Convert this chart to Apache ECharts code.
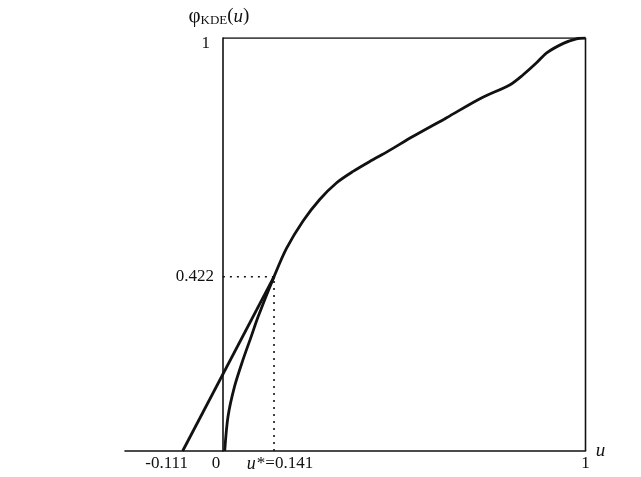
<!DOCTYPE html>
<html>
<head>
<meta charset="utf-8">
<script src="https://cdn.jsdelivr.net/npm/echarts@6/dist/echarts.min.js"></script>
<style>html,body{margin:0;padding:0;background:#fff}#c{width:641px;height:477px}</style>
</head>
<body>
<div id="c"></div>
<script>
// KDE curve phi_KDE(u)
const curveU   = [0.005, 0.014, 0.032, 0.055, 0.078, 0.097, 0.141, 0.175, 0.221, 0.267, 0.313, 0.359, 0.405, 0.456, 0.525, 0.617, 0.709, 0.792, 0.828, 0.865, 0.893, 0.939, 0.975, 1];
const curvePhi = [0, 0.083, 0.156, 0.220, 0.277, 0.325, 0.422, 0.490, 0.557, 0.609, 0.649, 0.677, 0.701, 0.726, 0.762, 0.807, 0.853, 0.887, 0.911, 0.940, 0.964, 0.987, 0.998, 1];
// tangent line from u=-0.111 to tangent point
const tangentU   = [-0.111, 0.141];
const tangentPhi = [0, 0.422];
// optimum point
const uStar = 0.141;
const phiStar = 0.422;
// ticks
const xTickValues = [-0.111, 0, 0.141, 1];
const xTickLabels = ['-0.111', '0', 'u*=0.141', '1'];
const yTickValues = [0.422, 1];
const yTickLabels = ['0.422', '1'];

const zip = (a, b) => a.map((v, i) => [v, b[i]]);
const FONT = 'Liberation Serif';
const chart = echarts.init(document.getElementById('c'));
chart.setOption({
  animation: false,
  backgroundColor: '#fff',
  grid: { left: 125, right: 55.5, top: 38, bottom: 26 },
  xAxis: {
    type: 'value', min: -0.27, max: 1,
    splitLine: { show: false },
    axisTick: { show: false },
    axisLine: { onZero: true, lineStyle: { color: '#111', width: 1.6 } },
    name: 'u', nameLocation: 'end', nameGap: 8,
    nameTextStyle: { fontFamily: FONT, fontStyle: 'italic', fontSize: 19, color: '#111', padding: [0, 0, 14, 0] },
    axisLabel: {
      customValues: xTickValues,
      margin: 4,
      fontFamily: FONT, fontSize: 17, color: '#111',
      formatter: function (v) {
        const i = xTickValues.findIndex(t => Math.abs(t - v) < 1e-6);
        if (i === 0) return '{l|' + xTickLabels[0] + '}';
        if (i === 1) return '{z|' + xTickLabels[1] + '}';
        if (i === 2) {
          const parts = xTickLabels[2].split('*');
          return '{iu|' + parts[0] + '}{s|*' + parts[1] + '}';
        }
        return i >= 0 ? xTickLabels[i] : '';
      },
      rich: {
        l: { fontFamily: FONT, fontSize: 17, color: '#111', padding: [0, 32, 0, 0] },
        z: { fontFamily: FONT, fontSize: 17, color: '#111', padding: [0, 14, 0, 0] },
        iu: { fontFamily: FONT, fontSize: 18, fontStyle: 'italic', color: '#111', padding: [0, 1, 0, 12] },
        s: { fontFamily: FONT, fontSize: 17, color: '#111' }
      }
    }
  },
  yAxis: {
    type: 'value', min: 0, max: 1,
    splitLine: { show: false },
    axisTick: { show: false },
    axisLine: { onZero: true, lineStyle: { color: '#111', width: 1.6 } },
    name: '{p|φ}{k|KDE}{b|(}{i|u}{b|)}',
    nameLocation: 'end', nameGap: 11,
    nameTextStyle: {
      align: 'center',
      padding: [0, 8, 0, 0],
      rich: {
        p: { fontFamily: FONT, fontSize: 21, color: '#111' },
        k: { fontFamily: FONT, fontSize: 13, color: '#111', verticalAlign: 'bottom', padding: [7, 0, 0, 0] },
        b: { fontFamily: FONT, fontSize: 19, color: '#111' },
        i: { fontFamily: FONT, fontSize: 19, fontStyle: 'italic', color: '#111' }
      }
    },
    axisLabel: {
      customValues: yTickValues,
      margin: -89,
      fontFamily: FONT, fontSize: 17, color: '#111',
      formatter: function (v) {
        const i = yTickValues.findIndex(t => Math.abs(t - v) < 1e-6);
        if (i === 1) return '{t|' + yTickLabels[1] + '}';
        return i >= 0 ? yTickLabels[i] : '';
      },
      rich: {
        t: { fontFamily: FONT, fontSize: 17, color: '#111', padding: [12, 4, 0, 0] }
      }
    }
  },
  series: [
    {
      type: 'line', name: 'box', data: [[0, 1], [1, 1], [1, 0]],
      symbol: 'none', lineStyle: { color: '#111', width: 1.6 }, silent: true
    },
    {
      type: 'line', name: 'phi', data: zip(curveU, curvePhi),
      symbol: 'none', smooth: 0.3, lineStyle: { color: '#111', width: 2.8 }
    },
    {
      type: 'line', name: 'tangent', data: zip(tangentU, tangentPhi),
      symbol: 'none', lineStyle: { color: '#111', width: 2.8 }
    },
    {
      type: 'line', name: 'hdot', data: [[0, phiStar], [uStar, phiStar]],
      symbol: 'none', lineStyle: { color: '#111', width: 1.6, type: [2, 5] }
    },
    {
      type: 'line', name: 'vdot', data: [[uStar, 0], [uStar, phiStar]],
      symbol: 'none', lineStyle: { color: '#111', width: 1.6, type: [2, 5] }
    }
  ]
});
</script>
</body>
</html>
